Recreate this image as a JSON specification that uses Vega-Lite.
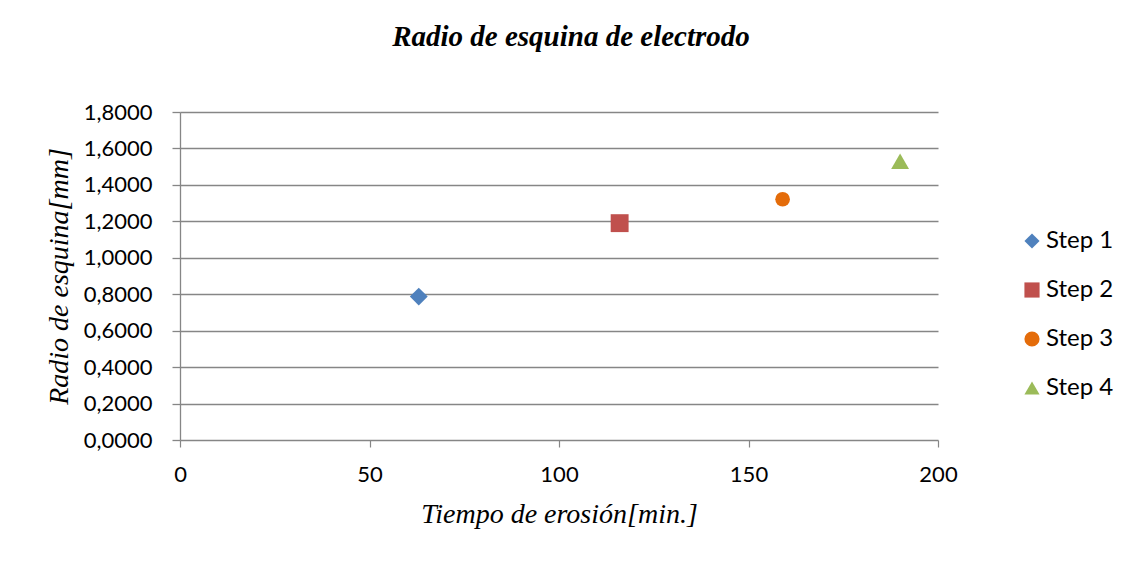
{
  "$schema": "https://vega.github.io/schema/vega-lite/v6.json",
  "autosize": "none",
  "width": 758,
  "height": 328,
  "padding": {"left": 180, "top": 112, "right": 196, "bottom": 122},
  "background": "white",
  "title": {
    "text": "Radio de esquina de electrodo",
    "font": "Liberation Serif",
    "fontSize": 29,
    "fontStyle": "italic",
    "fontWeight": "bold",
    "color": "#000000",
    "anchor": "middle",
    "dx": 12,
    "offset": 49
  },
  "data": {
    "values": [
      {"tiempo": 63, "radio": 0.787, "serie": "Step 1"},
      {"tiempo": 116, "radio": 1.19, "serie": "Step 2"},
      {"tiempo": 159, "radio": 1.321, "serie": "Step 3"},
      {"tiempo": 190, "radio": 1.53, "serie": "Step 4"}
    ]
  },
  "encoding": {
    "x": {
      "field": "tiempo",
      "type": "quantitative",
      "scale": {"domain": [0, 200], "nice": false},
      "axis": {
        "title": "Tiempo de erosión[min.]",
        "values": [0, 50, 100, 150, 200],
        "grid": false,
        "domain": false,
        "labelFlush": false,
        "tickColor": "#868686",
        "tickWidth": 1.2,
        "tickSize": 7,
        "labelPadding": 17,
        "titlePadding": 15
      }
    },
    "y": {
      "field": "radio",
      "type": "quantitative",
      "scale": {"domain": [0, 1.8], "nice": false},
      "axis": {
        "title": "Radio de esquina[mm]",
        "values": [0, 0.2, 0.4, 0.6, 0.8, 1.0, 1.2, 1.4, 1.6, 1.8],
        "labelExpr": "replace(format(datum.value, '.4f'), '.', ',')",
        "grid": true,
        "gridColor": "#868686",
        "gridWidth": 1.3,
        "domain": true,
        "domainColor": "#868686",
        "domainWidth": 1.3,
        "tickColor": "#868686",
        "tickWidth": 1.3,
        "tickSize": 8,
        "labelPadding": 20,
        "titlePadding": 10
      }
    },
    "shape": {
      "field": "serie",
      "type": "nominal",
      "scale": {"domain": ["Step 1", "Step 2", "Step 3", "Step 4"], "range": ["diamond", "square", "circle", "triangle-up"]},
      "legend": {
        "title": null,
        "orient": "none",
        "legendX": 840,
        "legendY": 117,
        "rowPadding": 25,
        "symbolSize": 230,
        "symbolStrokeWidth": 0,
        "labelFont": "Lato",
        "labelFontSize": 24,
        "labelColor": "#000000",
        "labelOffset": 2
      }
    },
    "color": {
      "field": "serie",
      "type": "nominal",
      "scale": {"domain": ["Step 1", "Step 2", "Step 3", "Step 4"], "range": ["#4F81BD", "#C0504D", "#E46C0A", "#9BBB59"]},
      "legend": {
        "title": null,
        "orient": "none",
        "legendX": 840,
        "legendY": 117,
        "rowPadding": 25,
        "symbolSize": 230,
        "symbolStrokeWidth": 0,
        "labelFont": "Lato",
        "labelFontSize": 24,
        "labelColor": "#000000",
        "labelOffset": 2
      }
    }
  },
  "layer": [
    {
      "transform": [{"filter": "datum.serie != 'Step 3'"}],
      "mark": {"type": "point", "filled": true, "opacity": 1, "size": 320}
    },
    {
      "transform": [{"filter": "datum.serie == 'Step 3'"}],
      "mark": {"type": "point", "filled": true, "opacity": 1, "size": 215}
    }
  ],
  "config": {
    "view": {"stroke": null},
    "axis": {
      "labelFont": "Lato",
      "labelFontSize": 22,
      "labelColor": "#000000",
      "titleFont": "Liberation Serif",
      "titleFontSize": 28,
      "titleFontStyle": "italic",
      "titleFontWeight": "normal",
      "titleColor": "#000000"
    }
  }
}
